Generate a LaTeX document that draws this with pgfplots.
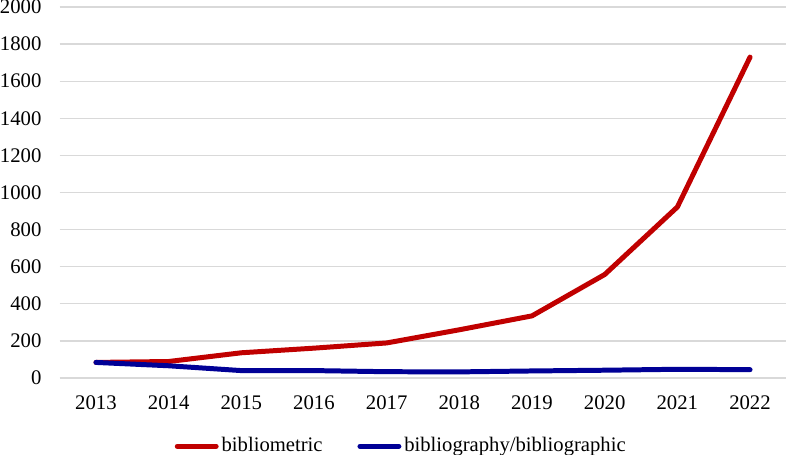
\documentclass[border=0pt]{standalone}
\usepackage{fontspec}
\setmainfont{Liberation Serif}
\usepackage{pgfplots}
\pgfplotsset{compat=1.18}
\definecolor{cred}{RGB}{192,0,0}
\definecolor{cblue}{RGB}{0,0,150}
\definecolor{cgrid}{RGB}{217,217,217}
\begin{document}
\fontsize{20.8bp}{24bp}\selectfont
\begin{tikzpicture}
\begin{axis}[
  scale only axis,
  width=728.7bp, height=372bp,
  xmin=2012.5, xmax=2022.5,
  ymin=0, ymax=2000,
  xtick={2013,...,2022},
  ytick={0,200,...,2000},
  /pgf/number format/assume math mode=true,
  xticklabel={\pgfmathprintnumber[1000 sep={}]{\tick}},
  yticklabel={\pgfmathprintnumber[1000 sep={}]{\tick}},
  axis line style={draw=none},
  major tick style={draw=none},
  ymajorgrids,
  grid style={cgrid, line width=1.2bp},
  yticklabel style={anchor=east, inner sep=0pt, xshift=-18bp},
  xticklabel style={anchor=north, inner sep=0pt, yshift=-17.5bp},
  ticklabel style={font=\fontsize{20.8bp}{24bp}\selectfont},
  clip=false,
  legend columns=2,
  legend style={draw=none, fill=none, at={(0.4707,-0.184)}, anchor=center,
    font=\fontsize{20.7bp}{24bp}\selectfont, inner sep=0pt,
    nodes={inner xsep=3bp, inner ysep=0pt},
    /tikz/every even column/.append style={column sep=32bp}},
  legend image code/.code={\draw[#1, line cap=round] (2.5bp,0bp) -- (41.5bp,0bp);},
  every axis plot/.append style={line width=5bp, line join=round, line cap=round},
]
\addplot[cred, mark=none] coordinates {
(2013,84) (2014,89) (2015,136) (2016,161) (2017,189)
(2018,260) (2019,335) (2020,558) (2021,922) (2022,1730)};
\addlegendentry{bibliometric}
\addplot[cblue, mark=none] coordinates {
(2013,84) (2014,66) (2015,40) (2016,40) (2017,34)
(2018,33) (2019,38) (2020,42) (2021,47) (2022,45)};
\addlegendentry{bibliography/bibliographic}
\end{axis}
\end{tikzpicture}
\end{document}
